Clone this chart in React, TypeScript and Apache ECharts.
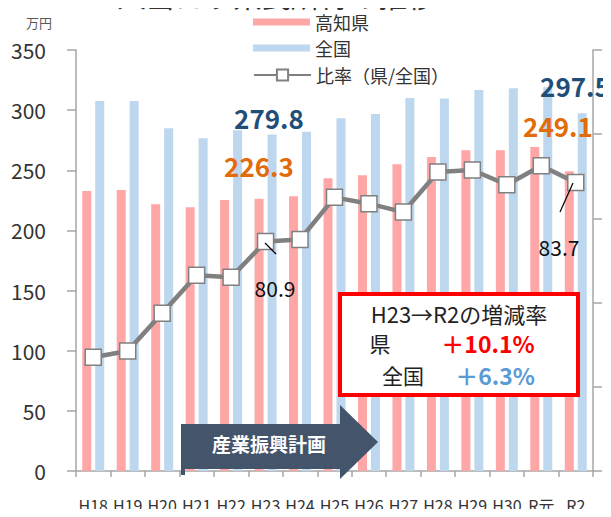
import React, { useEffect, useRef } from "react";
import * as echarts from "echarts";

const categories = ["H18", "H19", "H20", "H21", "H22", "H23", "H24", "H25", "H26", "H27", "H28", "H29", "H30", "R元", "R2"];
const kochi = [232.8, 233.6, 221.7, 219.3, 225.2, 226.3, 228.5, 243.3, 245.8, 255.0, 261.0, 266.7, 266.7, 269.4, 249.1];
const zenkoku = [307.5, 307.5, 285.0, 276.7, 283.3, 279.8, 282.0, 293.3, 296.7, 310.0, 309.7, 316.7, 318.3, 319.0, 297.5];
const ratio = [75.4, 75.7, 77.5, 79.3, 79.2, 80.9, 81.0, 83.0, 82.7, 82.3, 84.2, 84.3, 83.6, 84.5, 83.7];
const seriesNames = ["高知県", "全国", "比率（県/全国）"];
const leftTicks = { min: 0, max: 350, interval: 50 };
const rightTicks = { min: 70, max: 90, interval: 4 };

const FONT = '"Noto Sans CJK JP", "Noto Sans", sans-serif';

function txt(x: number, y: number, text: string, size: number, fill: string, weight = "normal", align = "center") {
  return {
    type: "text",
    x,
    y,
    z: 100,
    style: {
      text,
      fill,
      font: `${weight} ${size}px ${FONT}`,
      align,
      verticalAlign: "middle",
      textAlign: align,
      textVerticalAlign: "middle",
    },
  };
}

export default function App() {
  const ref = useRef<HTMLDivElement>(null);
  useEffect(() => {
    const chart = echarts.init(ref.current!, null, { renderer: "svg" });
    const axisGray = "#A6A6A6";
    const legendBase = {
      orient: "vertical",
      left: 248,
      itemWidth: 57,
      itemGap: 0,
      selectedMode: false,
      textStyle: { fontSize: 18, color: "#333", fontFamily: FONT },
    };
    chart.setOption({
      animation: false,
      textStyle: { fontFamily: FONT },
      grid: { left: 76, right: 18, top: 50, bottom: 46, containLabel: false },
      legend: [
        { ...legendBase, data: [{ name: seriesNames[0], icon: "rect" }], top: 8, itemHeight: 7 },
        { ...legendBase, data: [{ name: seriesNames[1], icon: "rect" }], top: 34, itemHeight: 7 },
        { ...legendBase, data: [seriesNames[2]], top: 61, itemHeight: 14 },
      ],
      xAxis: {
        type: "category",
        data: categories,
        axisLine: { lineStyle: { color: axisGray, width: 1.5 } },
        axisTick: { show: true, length: 6, lineStyle: { color: axisGray, width: 1.5 } },
        axisLabel: { interval: 0, fontSize: 16, color: "#333", margin: 26, fontFamily: FONT },
      },
      yAxis: [
        {
          type: "value",
          ...leftTicks,
          splitLine: { show: false },
          axisLine: { show: true, lineStyle: { color: axisGray, width: 1.5 } },
          axisTick: { show: true, length: 9, lineStyle: { color: axisGray, width: 1.5 } },
          axisLabel: { fontSize: 21, color: "#333", margin: 30, fontFamily: FONT },
        },
        {
          type: "value",
          ...rightTicks,
          position: "right",
          splitLine: { show: false },
          axisLine: { show: true, lineStyle: { color: axisGray, width: 1.5 } },
          axisTick: { show: true, length: 9, lineStyle: { color: axisGray, width: 1.5 } },
          axisLabel: { show: false },
        },
      ],
      series: [
        {
          name: seriesNames[0],
          type: "bar",
          data: kochi,
          barWidth: 9,
          barGap: "44%",
          itemStyle: { color: "#FFA6A6" },
        },
        {
          name: seriesNames[1],
          type: "bar",
          data: zenkoku,
          barWidth: 9,
          barGap: "44%",
          itemStyle: { color: "#BDD7EE" },
        },
        {
          name: seriesNames[2],
          type: "line",
          yAxisIndex: 1,
          data: ratio,
          symbol: "rect",
          symbolSize: 16,
          z: 5,
          lineStyle: { color: "#808080", width: 4.5 },
          itemStyle: { color: "#FFFFFF", borderColor: "#808080", borderWidth: 1.5 },
        },
      ],
      graphic: [
        txt(88, -5, "１人当たり県民所得の推移", 29, "#333", "normal", "left"),
        txt(26, 22, "万円", 13, "#595959", "normal", "left"),
        txt(269, 117, "279.8", 26, "#1F4E79", "bold"),
        txt(259, 165, "226.3", 26, "#E26B0A", "bold"),
        txt(575, 85, "297.5", 26, "#1F4E79", "bold"),
        txt(558, 125, "249.1", 26, "#E26B0A", "bold"),
        txt(275, 288, "80.9", 21, "#111"),
        txt(559, 247, "83.7", 21, "#111"),
        { type: "line", z: 100, shape: { x1: 265, y1: 243, x2: 276, y2: 254 }, style: { stroke: "#000", lineWidth: 1.2 } },
        { type: "line", z: 100, shape: { x1: 573, y1: 183, x2: 560, y2: 212 }, style: { stroke: "#000", lineWidth: 1.2 } },
        {
          type: "rect",
          z: 100,
          shape: { x: 340, y: 294, width: 238, height: 101 },
          style: { fill: "#FFFFFF", stroke: "#FF0000", lineWidth: 4 },
        },
        txt(459, 313, "H23→R2の増減率", 22, "#222"),
        txt(380, 343, "県", 21, "#222"),
        txt(488, 343, "＋10.1%", 23, "#FF0000", "bold"),
        txt(403, 375, "全国", 21, "#222"),
        txt(495, 375, "＋6.3%", 23, "#5B9BD5", "bold"),
        {
          type: "polygon",
          z: 100,
          shape: {
            points: [
              [181, 424],
              [340, 424],
              [340, 405],
              [378, 442],
              [340, 479],
              [340, 469],
              [181, 469],
            ],
          },
          style: { fill: "#44546A" },
        },
        { type: "rect", z: 100, shape: { x: 181, y: 468, width: 4, height: 7 }, style: { fill: "#44546A" } },
        txt(269, 443, "産業振興計画", 19, "#FFFFFF", "bold"),
      ],
    });
    return () => chart.dispose();
  }, []);
  return <div ref={ref} style={{ width: 611, height: 517, margin: -8 }} />;
}
